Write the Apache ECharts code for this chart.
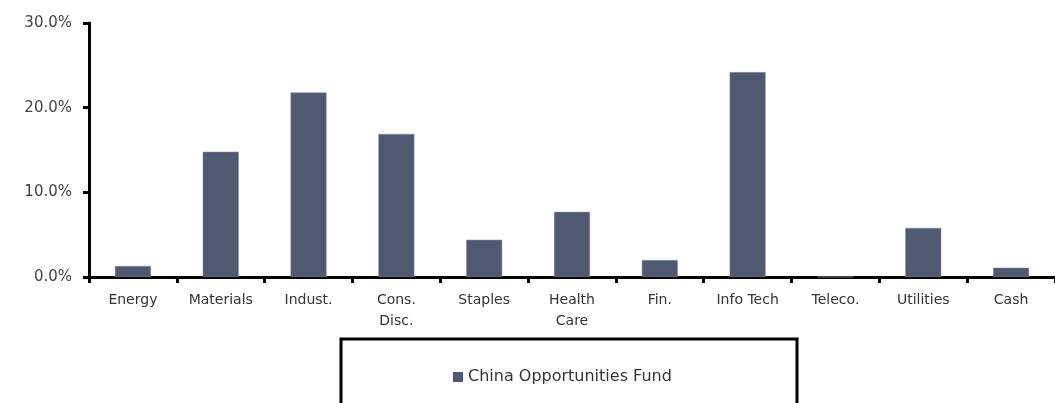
<!DOCTYPE html>
<html>
<head>
<meta charset="utf-8">
<script src="https://cdn.jsdelivr.net/npm/echarts@6/dist/echarts.min.js"></script>
<style>
  html, body { margin: 0; padding: 0; background: #fff; }
  #chart { width: 1055px; height: 403px; }
</style>
</head>
<body>
<div id="chart"></div>
<script>
  // sector weights (percent)
  const categories = ['Energy', 'Materials', 'Indust.', 'Cons.\nDisc.', 'Staples', 'Health\nCare',
    'Fin.', 'Info Tech', 'Teleco.', 'Utilities', 'Cash'];
  const fundValues = [1.3, 14.8, 21.8, 16.9, 4.4, 7.7, 2.0, 24.2, 0, 5.8, 1.1];
  const seriesName = 'China Opportunities Fund';

  const font = 'DejaVu Sans, sans-serif';

  let chart = echarts.init(document.getElementById('chart'));
  chart.setOption({
    backgroundColor: '#fff',
    animation: false,
    grid: {
      left: 89,
      right: -2,
      top: 23,
      bottom: 126
    },
    graphic: [{
      type: 'rect',
      shape: { x: 341, y: 339, width: 456, height: 90 },
      style: { fill: 'none', stroke: '#000', lineWidth: 3 }
    }],
    legend: {
      data: [seriesName],
      left: 448,
      top: 364,
      itemWidth: 10,
      itemHeight: 10,
      itemGap: 6,
      icon: 'rect',
      itemStyle: { borderWidth: 0 },
      textStyle: { fontFamily: font, fontSize: 16, color: '#333' }
    },
    xAxis: {
      type: 'category',
      data: categories,
      axisLine: { lineStyle: { color: '#000', width: 3 } },
      axisTick: { show: true, length: 6, lineStyle: { color: '#000', width: 3 } },
      axisLabel: {
        interval: 0,
        margin: 13,
        fontFamily: font,
        fontSize: 14,
        color: '#333',
        lineHeight: 21
      }
    },
    yAxis: {
      type: 'value',
      min: 0,
      max: 30,
      interval: 10,
      axisLine: { show: true, lineStyle: { color: '#000', width: 3 } },
      axisTick: { show: true, length: 6, lineStyle: { color: '#000', width: 3 } },
      splitLine: { show: false },
      axisLabel: {
        margin: 17,
        fontFamily: font,
        fontSize: 15,
        color: '#444',
        formatter: v => v.toFixed(1) + '%'
      }
    },
    series: [{
      name: seriesName,
      type: 'bar',
      data: fundValues,
      barWidth: 36,
      itemStyle: { color: '#4f5a72', borderColor: '#8a93a6', borderWidth: 0.5 }
    }]
  });
</script>
</body>
</html>
